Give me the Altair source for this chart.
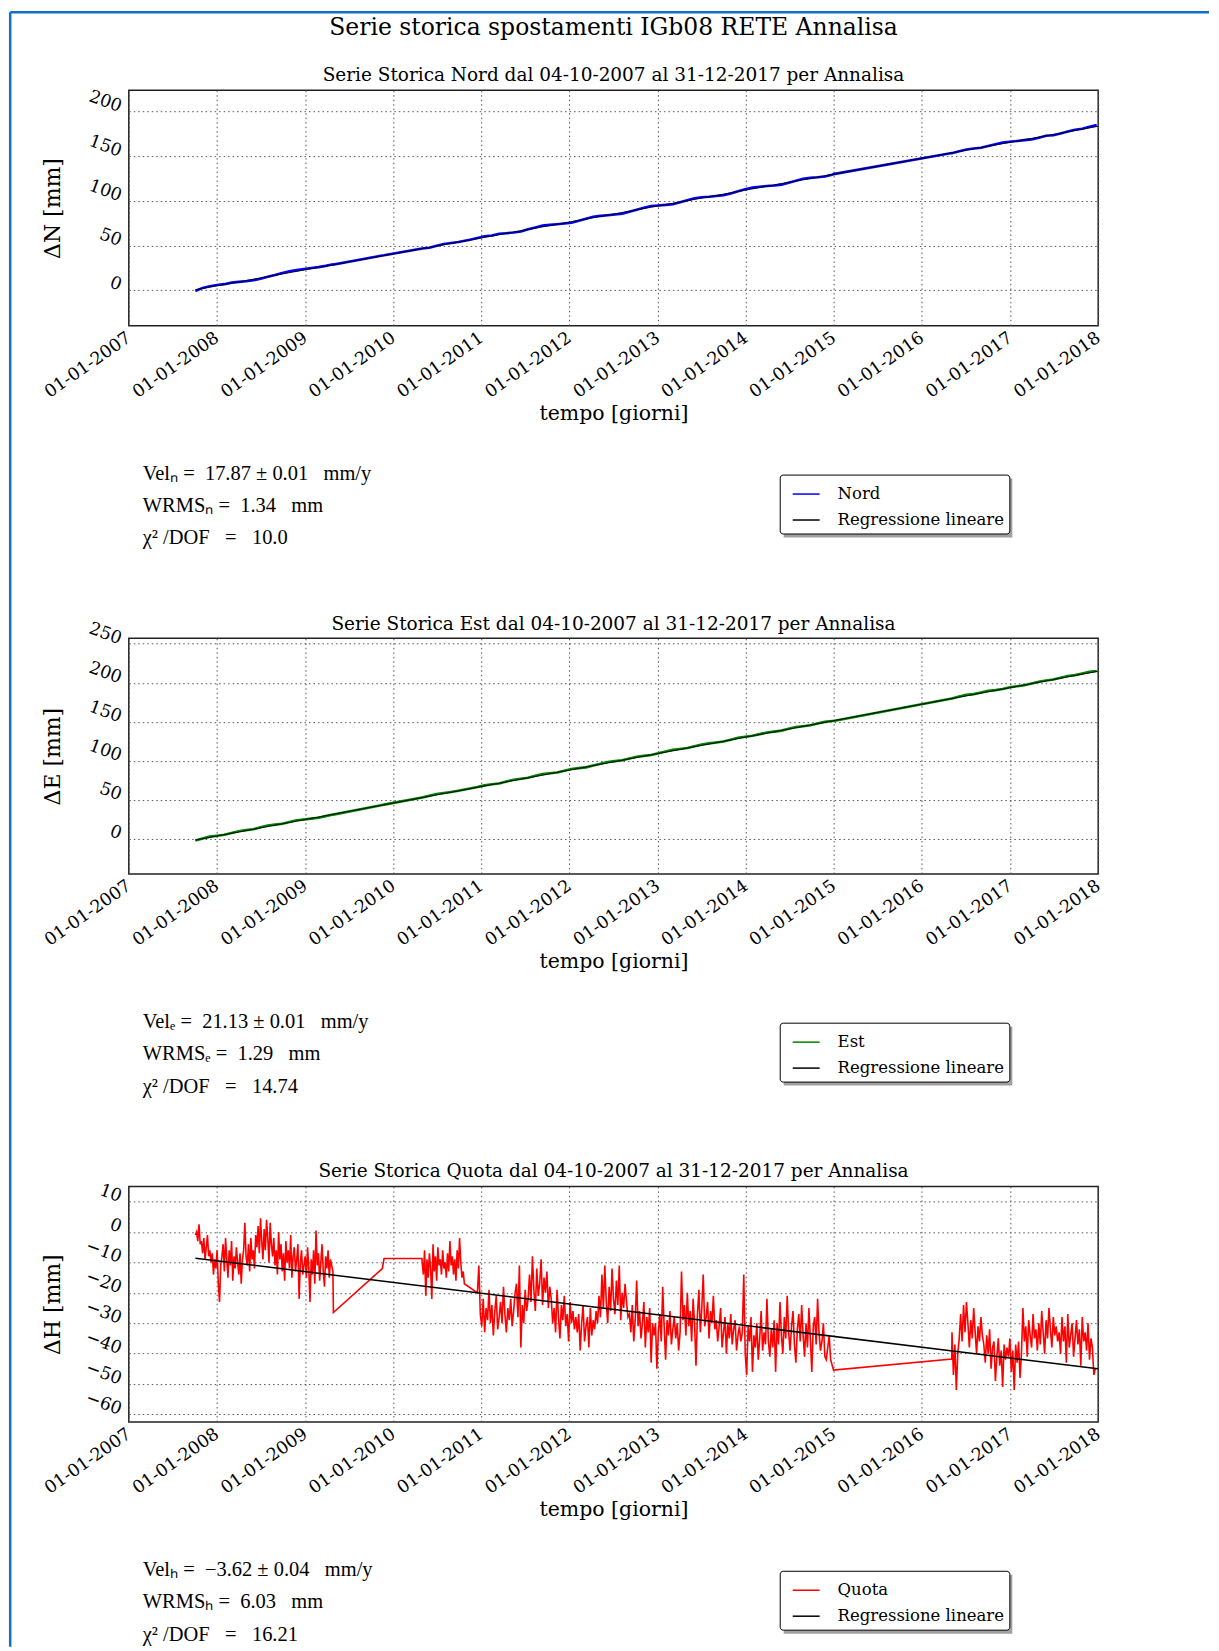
import altair as alt
import pandas as pd

# ------------------------------------------------------------------ data
TICK_YEARS = list(range(2007, 2019))
REG_DATES = ["2007-10-04", "2017-12-31"]

# ---- Nord (mm), values every 30 days inside each observed segment
NORD_A = [-1.0, 2.5, 4.4, 5.7, 6.7, 8.4, 9.3, 10.0, 11.0, 12.7, 14.9, 17.0, 19.3, 21.2, 22.4, 23.7, 24.8, 25.8, 27.2, 28.9]
NORD_B = [46.7, 47.4, 49.7, 51.8, 52.9, 53.9]
NORD_C = [58.5, 60.4, 61.2, 63.1, 63.8, 64.6, 65.7, 68.3, 70.3, 72.3,
          73.1, 73.9, 74.7, 75.6, 77.7, 80.1, 82.3, 83.2, 83.9, 84.7,
          85.5, 87.8, 90.2, 92.3, 94.2, 94.9, 95.5, 96.3, 98.4, 100.8,
          102.9, 104.0, 104.6, 105.4, 106.3, 108.4, 110.8, 113.0, 114.9, 115.8,
          116.6, 117.3, 118.2, 120.4, 122.7, 124.7, 125.8, 126.4, 127.3, 129.3]
NORD_D = [153.5, 155.7, 157.6, 158.7, 159.5, 161.4, 163.4, 165.3, 166.2, 167.2, 168.1,
          168.9, 170.8, 173.0, 173.5, 175.5, 177.8, 179.7, 180.8, 183.0, 184.9]
NE_EXTRA_DATES = ["2009-04-28", "2009-11-17", "2009-11-24", "2010-04-30", "2010-11-15", "2014-12-31", "2016-05-04"]
NORD_EXTRA = [28.6, 38.9, 39.1, 46.5, 56.4, 130.0, 153.6]
NORD_REG = [0.5, 183.5]

# ---- Est (mm)
EST_A = [-2.2, 0.5, 2.8, 3.9, 5.1, 7.6, 9.8, 11.1, 12.2, 14.8, 17.0, 18.2, 19.3, 21.6, 23.8, 24.8, 25.9, 27.1, 29.1, 31.2]
EST_B = [53.1, 55.3, 57.5, 58.7, 60.1, 61.6]
EST_C = [66.3, 68.5, 69.9, 70.9, 73.4, 75.8, 77.1, 78.3, 80.8, 82.9,
         84.0, 85.1, 87.3, 89.5, 90.6, 91.6, 94.0, 96.3, 98.4, 99.6,
         100.6, 102.9, 105.2, 106.3, 107.4, 109.7, 112.0, 114.0, 115.1, 116.4,
         118.7, 121.0, 122.3, 123.5, 124.7, 127.1, 129.5, 130.9, 132.0, 134.2,
         136.3, 137.4, 138.7, 141.0, 143.2, 144.3, 145.5, 147.9, 149.9, 151.1]
EST_D = [179.9, 182.3, 184.5, 185.5, 187.5, 189.6, 190.6, 192.1, 194.3, 195.5, 196.8,
         199.2, 201.4, 202.9, 204.2, 206.5, 208.6, 209.8, 211.8, 214.0, 215.2]
EST_EXTRA = [31.0, 43.4, 43.8, 52.8, 64.5, 151.0, 179.8]
EST_REG = [-1.6, 214.8]

# ---- Quota (mm), denser sampling
QUOTA_A = [-1, 0, -3, 2.5, -4,
           -3, -7, -2, -9, -5, -1, -8, -6,
           -10, -7, -14, -9, -12, -6, -17, -23, -11, -8,
           -4, -13, -2, -9, -15, -6, -11, -3, -16, -8, -12, -5, -10, -14, -7, -17, -9, -6,
           3, -8, -11, -4, -13, -2, -9, -6, -12, -1,
           -5, 2, -7, 4.5, -3, -9, 1, -6, 4, -2, -10, 3, -4, -8,
           -2, -11, -6, -14, 0, -9, -4, -13, -7, -16, -3, -10, -6, -12, -1, -15, -8, -5, -13, -9, -4, -22, -10, -6, -14, -11,
           -8, -15, -5, -12, -23, -9, -14, -6, -17, 0.5, -11, -7, -16, -10, -4, -13, -18, -8, -12, -6, -15, -9, -11, -13]
QUOTA_B = [-10, -14, -6, -21, -9, -15, -7, -12, -22, -4, -13, -8, -16, -5, -11, -9, -14, -6,
           -12, -10, -15, -7, -13, -3, -11, -8, -14, -9, -16, -6, -12, -2, -10, -15, -13, -17]
QUOTA_C = [-20, -11, -27, -31, -22, -33, -25, -29, -19, -30, -24, -34, -26, -21, -32, -28, -23, -30, -18, -27, -33, -25, -29, -22, -31, -26, -20,
           -17, -28, -11, -38, -24, -30, -19, -26, -22,
           -14, -23, -8, -19, -26, -12, -21, -17, -9, -24, -15, -20, -13, -25, -18,
           -22, -30, -25, -33, -19, -28, -35, -24, -29, -21, -31, -27, -36, -23, -30, -26, -32, -28,
           -33, -27, -39, -30, -24, -36, -31, -28, -38, -25, -34, -29, -32, -26, -30,
           -21, -28, -14, -25, -11, -23, -30, -18, -26, -12, -22, -27, -16, -24, -11, -29, -20, -25, -17, -23, -28,
           -27, -33, -24, -36, -29, -16, -31, -26, -35, -30, -23, -38, -28, -33, -25, -43, -30, -34,
           -30, -45, -33, -27, -36, -18, -31, -42, -29, -34, -26, -37, -32, -28, -35, -30, -39, -33,
           -13, -29, -24, -34, -20, -31, -26, -36, -22, -30, -44, -27, -19, -33, -25, -14, -31, -28, -23, -35, -26, -30, -21, -32,
           -29, -36, -31, -25, -38, -33, -28, -40, -30, -35, -27, -37, -32, -29, -39, -34, -31, -36,
           -33, -14, -40, -47, -31, -36, -28, -46, -34, -38, -30, -42, -35, -26, -39, -33, -37, -22, -36, -41, -32, -38, -29, -46,
           -30, -37, -23, -34, -40, -28, -35, -21, -33, -39, -31, -26, -37, -43, -32, -27, -36, -24, -34, -41, -30, -38, -25, -35,
           -46, -31, -28, -37, -22, -33, -39, -36, -30, -41, -42, -38, -34, -42]
QUOTA_D = [-33, -47, -37, -52, -40, -35,
           -27, -36, -24, -33, -23, -30,
           -38, -29, -35, -25, -33, -40, -31, -36, -28, -34,
           -37, -43, -34, -40, -32, -45, -38, -36, -49, -41, -35, -44, -39, -51, -37, -42, -38,
           -41, -35, -46, -39, -52, -37, -43, -36, -48, -40,
           -25, -36, -31, -41, -29, -34, -38, -27, -35, -32, -39,
           -30, -37, -26, -33, -40, -29, -35, -25, -32, -38, -28, -34, -31, -36,
           -33, -40, -28, -36, -31, -43, -27, -38, -34, -30, -41, -35, -29, -37, -32, -44, -28, -36,
           -33, -39, -30, -42, -35, -38, -47, -45]
QUOTA_EXTRA_DATES = ["2009-04-28", "2009-11-17", "2009-11-24", "2010-04-30", "2014-12-31", "2016-05-04"]
QUOTA_EXTRA = [-26.5, -12.0, -8.7, -8.7, -45.4, -41.8]
QUOTA_REG = [-8.6, -45.0]

SEG_STARTS = ["2007-10-04", "2010-05-01", "2010-12-16", "2016-05-05"]
NE_STEPS = [30, 30, 30, 30]
QUOTA_STEPS = [5, 5, 6, 6]

NB = "\u00a0"
STATS_NORD = f"Velₙ ={NB} 17.87{NB}±{NB}0.01{NB} {NB}mm/y\nWRMSₙ ={NB} 1.34{NB} {NB}mm\nχ²{NB}/DOF{NB} {NB}={NB} {NB}10.0"
STATS_EST = f"Velₑ ={NB} 21.13{NB}±{NB}0.01{NB} {NB}mm/y\nWRMSₑ ={NB} 1.29{NB} {NB}mm\nχ²{NB}/DOF{NB} {NB}={NB} {NB}14.74"
STATS_QUOTA = f"Velₕ ={NB} −3.62{NB}±{NB}0.04{NB} {NB}mm/y\nWRMSₕ ={NB} 6.03{NB} {NB}mm\nχ²{NB}/DOF{NB} {NB}={NB} {NB}16.21"

MAIN_TITLE = "Serie storica spostamenti IGb08 RETE Annalisa"

# ------------------------------------------------------------------ helpers
FONT = "DejaVu Serif"
W, H = 971, 236
LEG_X, LEG_Y = 652, 385
LEG_W, LEG_H = 229, 59
BORDER_BLUE = "#1170c4"


def build(segments, steps, extra_dates, extra_vals):
    rows = []
    for start, step, vals in zip(SEG_STARTS, steps, segments):
        d0 = pd.Timestamp(start)
        for i, v in enumerate(vals):
            rows.append(((d0 + pd.Timedelta(days=step * i)).strftime("%Y-%m-%d"), v))
    rows += list(zip(extra_dates, extra_vals))
    return pd.DataFrame(rows, columns=["data", "valore"]).sort_values("data")


def panel(name, color, df, reg_vals, ydom, yticks, ytitle, stats, title, data_width, reg_width):
    df = df.assign(serie=name)
    reg = pd.DataFrame({"data": REG_DATES, "valore": reg_vals, "serie": "Regressione lineare"})
    x = alt.X(
        "data:T",
        scale=alt.Scale(type="utc", domain=[alt.DateTime(year=2007, month=1, date=1, utc=True),
                                            alt.DateTime(year=2018, month=1, date=1, utc=True)]),
        axis=alt.Axis(
            values=[alt.DateTime(year=y, month=1, date=1, utc=True) for y in TICK_YEARS],
            labelExpr="utcFormat(datum.value, '%d-%m-%Y')",
            labelAngle=-35, labelAlign="right", labelBaseline="middle", labelPadding=10,
            labelFont=FONT, labelFontSize=17.5, labelColor="black",
            labelFlush=False, labelOverlap=False,
            title="tempo [giorni]", titleFont=FONT, titleFontSize=20.5, titleFontWeight="normal",
            titleColor="black", titleY=88, titleBaseline="middle",
            tickSize=0, domain=False, grid=True,
        ),
    )
    y = alt.Y(
        "valore:Q",
        scale=alt.Scale(domain=ydom, nice=False, zero=False),
        axis=alt.Axis(
            values=yticks, labelAngle=20, labelAlign="right", labelBaseline="alphabetic",
            labelPadding=10, labelFont=FONT, labelFontSize=17.5, labelColor="black",
            title=ytitle, titleFont=FONT, titleFontSize=22, titleFontWeight="normal",
            titleColor="black", titleX=-76, titleY=H / 2, titleAngle=270,
            titleBaseline="middle", titleAlign="center",
            tickSize=0, domain=False, grid=True,
        ),
    )
    c = alt.Color(
        "serie:N",
        scale=alt.Scale(domain=[name, "Regressione lineare"], range=[color, "black"]),
        legend=alt.Legend(
            orient="none", legendX=LEG_X, legendY=LEG_Y, title=None,
            symbolType="stroke", symbolSize=729, symbolStrokeWidth=1.5,
            symbolOffset=7, labelOffset=17, labelFont=FONT, labelFontSize=16.5,
            labelColor="black", labelLimit=0, strokeColor="black", fillColor="white",
            padding=5, rowPadding=3, cornerRadius=3,
        ),
    )
    shadow = alt.Chart(pd.DataFrame({"k": [0]})).mark_rect(color="#a0a0a0").encode(
        x=alt.value(LEG_X + 4), x2=alt.value(LEG_X + 4 + LEG_W),
        y=alt.value(LEG_Y + 4), y2=alt.value(LEG_Y + 4 + LEG_H),
    )
    data_line = alt.Chart(df).mark_line(strokeWidth=data_width, clip=True).encode(x=x, y=y, color=c)
    reg_line = alt.Chart(reg).mark_line(strokeWidth=reg_width, clip=True).encode(x=x, y=y, color=c)
    text = alt.Chart(pd.DataFrame({"testo": [stats]})).mark_text(
        align="left", baseline="top", font="Liberation Serif", fontSize=20.5,
        lineBreak="\n", lineHeight=32.5, color="black",
    ).encode(x=alt.value(14), y=alt.value(374), text="testo:N")
    return alt.layer(shadow, data_line, reg_line, text).properties(width=W, height=H, title=title)


def sub_title(text, offset):
    return alt.TitleParams(text, font=FONT, fontSize=18.5, fontWeight="normal",
                           color="black", offset=offset, anchor="middle", frame="group")


nord = build([NORD_A, NORD_B, NORD_C, NORD_D], NE_STEPS, NE_EXTRA_DATES, NORD_EXTRA)
est = build([EST_A, EST_B, EST_C, EST_D], NE_STEPS, NE_EXTRA_DATES, EST_EXTRA)
quota = build([QUOTA_A, QUOTA_B, QUOTA_C, QUOTA_D], QUOTA_STEPS, QUOTA_EXTRA_DATES, QUOTA_EXTRA)

t1 = alt.TitleParams(
    MAIN_TITLE, subtitle="Serie Storica Nord dal 04-10-2007 al 31-12-2017 per Annalisa",
    font=FONT, fontSize=23.5, fontWeight="normal", color="black",
    subtitleFont=FONT, subtitleFontSize=18.5, subtitleColor="black", subtitlePadding=26,
    offset=3, anchor="middle", frame="group",
)

p1 = panel("Nord", "#0000ff", nord, NORD_REG, [-40, 224], [0, 50, 100, 150, 200], "ΔN  [mm]",
           STATS_NORD, t1, 2.6, 0.9)
p2 = panel("Est", "#008000", est, EST_REG, [-45, 257], [0, 50, 100, 150, 200, 250], "ΔE  [mm]",
           STATS_EST, sub_title("Serie Storica Est dal 04-10-2007 al 31-12-2017 per Annalisa", -14), 2.6, 0.9)
p3 = panel("Quota", "#ff0000", quota, QUOTA_REG, [-62.5, 15], [-60, -50, -40, -30, -20, -10, 0, 10], "ΔH  [mm]",
           STATS_QUOTA, sub_title("Serie Storica Quota dal 04-10-2007 al 31-12-2017 per Annalisa", 0), 1.6, 1.5)

inner = alt.vconcat(p1, p2, p3, spacing=313, bounds="flush").resolve_scale(
    x="independent", y="independent", color="independent"
)

# page frame (blue lines at the top and left edge of the screenshot)
one = pd.DataFrame({"k": [0]})
FRAME_X, FRAME_Y = -118.8, -77.2
frame_left = alt.Chart(one).mark_rule(color=BORDER_BLUE, strokeWidth=2.5).encode(
    x=alt.value(FRAME_X), y=alt.value(FRAME_Y), y2=alt.value(1560)
)
frame_top = alt.Chart(one).mark_rule(color=BORDER_BLUE, strokeWidth=2.5).encode(
    x=alt.value(FRAME_X), x2=alt.value(1082), y=alt.value(FRAME_Y)
)
border = alt.layer(frame_left, frame_top).properties(
    width=W, height=1, view=alt.ViewBackground(stroke="transparent")
)

chart = alt.vconcat(border, inner, spacing=0, bounds="flush").properties(
    padding={"left": 0, "top": 0, "right": 0, "bottom": 0}
).configure_view(
    stroke="#222222", strokeWidth=1.5
).configure_axis(
    gridColor="#555555", gridDash=[1.5, 3], gridWidth=1, gridOpacity=1
)

chart.save("out.html", embed_options={"renderer": "svg", "actions": False})
